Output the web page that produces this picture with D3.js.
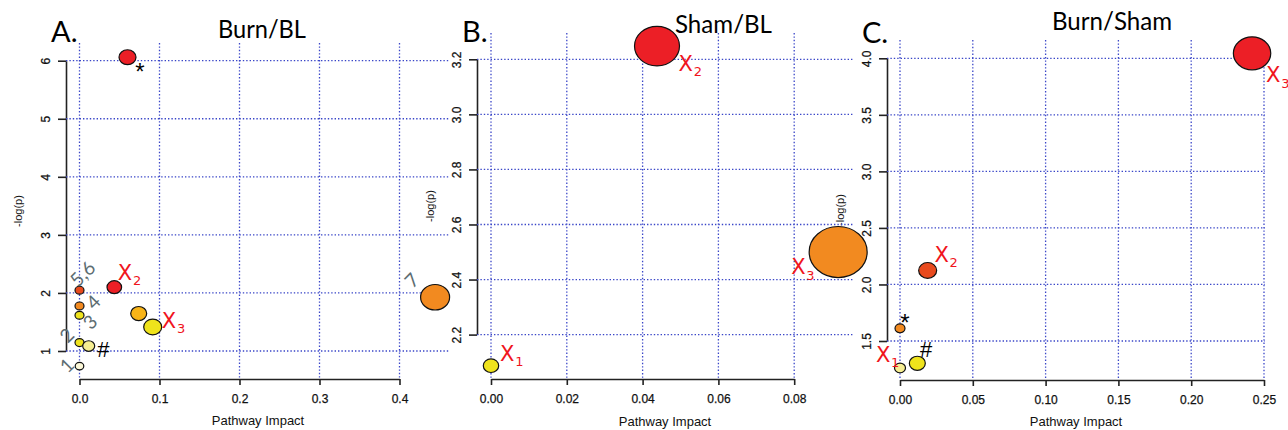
<!DOCTYPE html>
<html><head><meta charset="utf-8">
<script src="https://cdn.jsdelivr.net/npm/d3@7"></script>
<style>body{margin:0;background:#fff}svg{display:block}</style>
</head><body><svg id="c" width="1288" height="430"></svg>
<script>
// ---------------- data ----------------
// Panel A: Burn/BL
const aImpact = [0.060, 0.0435, 0.074, 0.0915, 0, 0, 0, 0, 0.0115, 0, 0.4445];
const aLogP   = [6.06, 2.10, 1.645, 1.414, 2.047, 1.776, 1.616, 1.145, 1.086, 0.74, 1.926];
const aSize   = [8.5, 7.3, 8, 9, 4.5, 4.5, 4.5, 4.5, 6, 4.3, 14.5];
const aLevel  = [6, 6, 3, 2, 5, 4, 2, 2, 1, 0, 4];
const aXTicks = [0, 0.1, 0.2, 0.3, 0.4];
const aYTicks = [1, 2, 3, 4, 5, 6];
const aCrossSub = ["2", "3"];
const aCrossX = [0.0569, 0.1119];
const aCrossY = [2.348, 1.529];
const aMarkText = ["*", "#"];
const aMarkX = [0.0756, 0.0298];
const aMarkY = [5.89, 1.041];
const aNameText = ["5,6", "4", "3", "2", "1", "7"];
const aNameX = [0.0038, 0.0173, 0.0131, -0.016, -0.016, 0.4153];
const aNameY = [2.331, 1.845, 1.50, 1.271, 0.753, 2.219];

// Panel B: Sham/BL
const bImpact = [0.0438, 0, 0.0916];
const bLogP   = [3.248, 2.087, 2.50];
const bSize   = [22.5, 7.7, 29];
const bLevel  = [6, 2, 4];
const bXTicks = [0, 0.02, 0.04, 0.06, 0.08];
const bYTicks = [2.2, 2.4, 2.6, 2.8, 3.0, 3.2];
const bCrossSub = ["1", "2", "3"];
const bCrossX = [0.0043, 0.0514, 0.0811];
const bCrossY = [2.133, 3.185, 2.446];

// Panel C: Burn/Sham
const cImpact = [0.2418, 0.019, 0, 0, 0.0119];
const cLogP   = [4.044, 2.124, 1.612, 1.262, 1.303];
const cSize   = [18.7, 9, 5, 5.5, 8];
const cLevel  = [6, 5, 4, 1, 2];
const cXTicks = [0, 0.05, 0.10, 0.15, 0.20, 0.25];
const cYTicks = [1.5, 2.0, 2.5, 3.0, 3.5, 4.0];
const cCrossSub = ["1", "2", "3"];
const cCrossX = [-0.0115, 0.0286, 0.2564];
const cCrossY = [1.381, 2.264, 3.853];
const cMarkText = ["*", "#"];
const cMarkX = [0.0034, 0.0179];
const cMarkY = [1.705, 1.425];

const palette = ["#fcf8d8", "#f6ee92", "#efe31c", "#f8b418", "#f28a20", "#e84a1e", "#ec1f26"];

// ---------------- layout ----------------
const svg = d3.select("#c");
const FONT = "'Liberation Sans', Arial, sans-serif";
const TITLEFONT = "Lato, 'Open Sans', sans-serif";

const panels = [
  { id: "A", letter: "A.", title: "Burn/BL",
    X: aImpact, Y: aLogP, S: aSize, L: aLevel, xt: aXTicks, yt: aYTicks,
    xf: d3.format(".1f"), yf: d3.format("d"),
    xr: [79.5, 399.5], yr: [351, 60.7], axisX: 66, axisY: 379, box: [66, 43, 450, 379],
    crossSub: aCrossSub, crossX: aCrossX, crossY: aCrossY,
    markText: aMarkText, markX: aMarkX, markY: aMarkY,
    nameText: aNameText, nameX: aNameX, nameY: aNameY,
    letterPos: [51, 42], titlePos: [262, 38, 88], ylabX: 21.5, xlabY: 425 },
  { id: "B", letter: "B.", title: "Sham/BL",
    X: bImpact, Y: bLogP, S: bSize, L: bLevel, xt: bXTicks, yt: bYTicks,
    xf: d3.format(".2f"), yf: d3.format(".1f"),
    xr: [491, 794.2], yr: [334.6, 59.3], axisX: 477, axisY: 379, box: [477, 33, 853, 379],
    crossSub: bCrossSub, crossX: bCrossX, crossY: bCrossY,
    markText: [], markX: [], markY: [], nameText: [], nameX: [], nameY: [],
    letterPos: [462, 42], titlePos: [723.5, 33, 97], ylabX: 433.5, xlabY: 426 },
  { id: "C", letter: "C.", title: "Burn/Sham",
    X: cImpact, Y: cLogP, S: cSize, L: cLevel, xt: cXTicks, yt: cYTicks,
    xf: d3.format(".2f"), yf: d3.format(".1f"),
    xr: [900, 1264], yr: [341, 58.3], axisX: 887, axisY: 380, box: [887, 40, 1265, 380],
    crossSub: cCrossSub, crossX: cCrossX, crossY: cCrossY,
    markText: cMarkText, markX: cMarkX, markY: cMarkY,
    nameText: [], nameX: [], nameY: [],
    letterPos: [862, 43], titlePos: [1112, 30, 120], ylabX: 843.5, xlabY: 426 }
];

panels.forEach(p => {
  p.x = d3.scaleLinear().domain([p.xt[0], p.xt[p.xt.length - 1]]).range(p.xr);
  p.y = d3.scaleLinear().domain([p.yt[0], p.yt[p.yt.length - 1]]).range(p.yr);
});
const rScale = d3.scaleLinear().domain([0, 30]).range([0, 30]);
const color = d3.scaleOrdinal().domain(d3.range(palette.length)).range(palette);

const layerText = svg.append("g");
const layerGrid = svg.append("g");
const layerPts = svg.append("g");
const layerAnn = svg.append("g");

// clip paths
const defs = svg.append("defs");
panels.forEach(p => {
  const [l, t, r, b] = p.box;
  defs.append("clipPath").attr("id", "clip" + p.id)
    .append("rect").attr("x", l).attr("y", t).attr("width", r - l).attr("height", b - t);
});

panels.forEach(p => {
  const [l, t, r, b] = p.box;
  // --- axes ---
  const ya = layerText.append("g").attr("transform", `translate(${p.axisX},0)`)
    .call(d3.axisLeft(p.y).tickValues(p.yt).tickFormat(p.yf).tickSize(8).tickSizeOuter(0));
  ya.selectAll("text").attr("x", null).attr("dy", null).attr("text-anchor", "middle")
    .attr("transform", "translate(-16,0) rotate(-90)");
  const xa = layerText.append("g").attr("transform", `translate(0,${p.axisY})`)
    .call(d3.axisBottom(p.x).tickValues(p.xt).tickFormat(p.xf).tickSize(6).tickSizeOuter(0));
  xa.selectAll("text").attr("y", 24).attr("dy", null);
  [ya, xa].forEach(a => {
    a.attr("font-family", FONT).attr("font-size", 12);
    a.selectAll("text").attr("fill", "#111").attr("stroke", "#111").attr("stroke-width", 0.25);
    a.selectAll("path,line").attr("stroke", "#222").attr("stroke-width", 1.6);
  });

  // axis titles
  layerText.append("text").attr("transform", `translate(${p.ylabX},${(t + b) / 2}) rotate(-90)`)
    .attr("text-anchor", "middle").attr("font-family", FONT).attr("font-size", 11)
    .attr("fill", "#111").text("-log(p)");
  layerText.append("text").attr("x", (l + r) / 2).attr("y", p.xlabY)
    .attr("text-anchor", "middle").attr("font-family", FONT).attr("font-size", 13)
    .attr("fill", "#111").text("Pathway Impact");

  // --- grid ---
  const g = layerGrid.append("g").attr("clip-path", `url(#clip${p.id})`)
    .attr("stroke", "#3a46c8").attr("stroke-width", 1.3).attr("stroke-dasharray", "1.4,2");
  g.selectAll("line.v").data(p.xt).join("line")
    .attr("x1", d => p.x(d)).attr("x2", d => p.x(d)).attr("y1", t).attr("y2", p.axisY);
  g.selectAll("line.h").data(p.yt).join("line")
    .attr("x1", p.axisX).attr("x2", r).attr("y1", d => p.y(d)).attr("y2", d => p.y(d));

  // --- points ---
  layerPts.append("g").selectAll("ellipse").data(d3.range(p.X.length)).join("ellipse")
    .attr("cx", i => p.x(p.X[i])).attr("cy", i => p.y(p.Y[i]))
    .attr("rx", i => rScale(p.S[i])).attr("ry", i => rScale(p.S[i]) * 0.88)
    .attr("fill", i => color(p.L[i])).attr("stroke", "#111").attr("stroke-width", 1.2);

  // --- titles ---
  layerAnn.append("text").attr("x", p.letterPos[0]).attr("y", p.letterPos[1])
    .attr("font-family", TITLEFONT).attr("font-size", 29).attr("fill", "#000").text(p.letter);
  layerAnn.append("text").attr("x", p.titlePos[0]).attr("y", p.titlePos[1])
    .attr("text-anchor", "middle").attr("font-family", TITLEFONT).attr("font-size", 25)
    .attr("textLength", p.titlePos[2]).attr("lengthAdjust", "spacingAndGlyphs")
    .attr("fill", "#000").text(p.title);

  // --- red X annotations ---
  p.crossSub.forEach((s, i) => {
    const cx = p.x(p.crossX[i]), cy = p.y(p.crossY[i]);
    const gg = layerAnn.append("g").attr("fill", "#f0141c").attr("font-family", "'DejaVu Sans', sans-serif");
    gg.append("text").attr("x", cx).attr("y", cy).attr("dy", "0.36em")
      .attr("text-anchor", "middle").attr("font-size", 21).text("X");
    gg.append("text").attr("x", cx + 12).attr("y", cy + 8).attr("dy", "0.36em")
      .attr("text-anchor", "middle").attr("font-size", 13).text(s);
  });
  // --- black marks ---
  p.markText.forEach((s, i) => {
    layerAnn.append("text").attr("x", p.x(p.markX[i])).attr("y", p.y(p.markY[i]))
      .attr("dy", s === "*" ? "0.55em" : "0.36em").attr("text-anchor", "middle")
      .attr("font-family", FONT).attr("font-size", s === "*" ? 24 : 22).attr("fill", "#000").text(s);
  });
  // --- gray pathway numbers ---
  p.nameText.forEach((s, i) => {
    layerAnn.append("text")
      .attr("transform", `translate(${p.x(p.nameX[i])},${p.y(p.nameY[i])}) rotate(-45)`)
      .attr("dy", "0.36em").attr("text-anchor", "middle")
      .attr("font-family", TITLEFONT).attr("font-size", 19).attr("fill", "#5d6d72").text(s);
  });
});
</script></body></html>
